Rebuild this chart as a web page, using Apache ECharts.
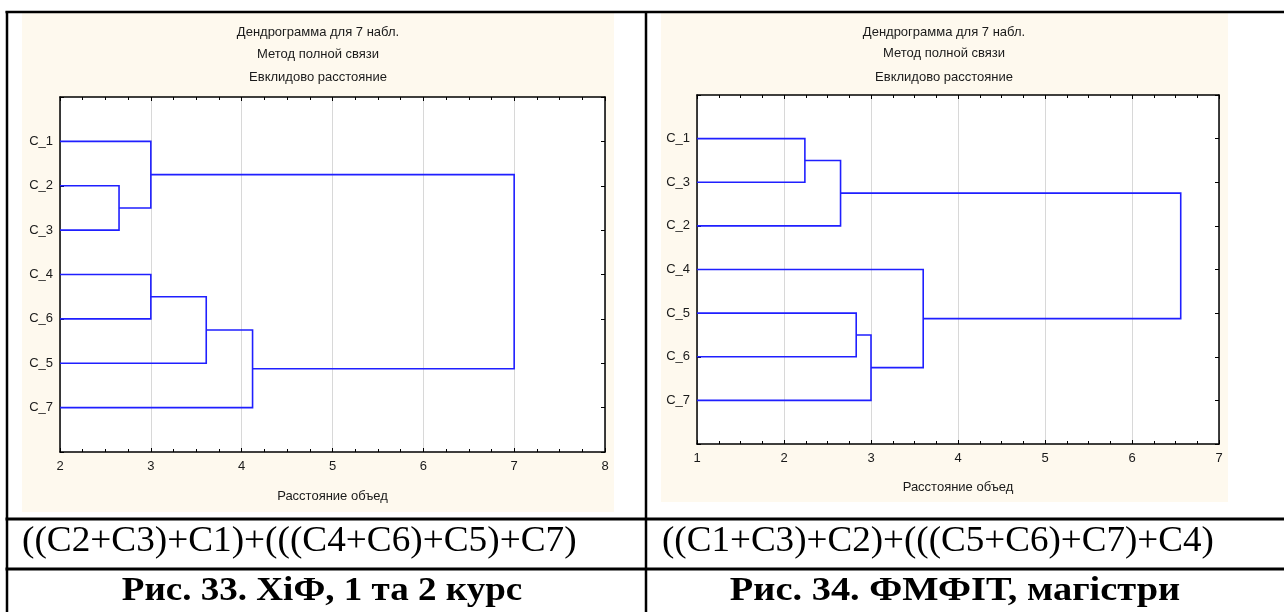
<!DOCTYPE html>
<html><head><meta charset="utf-8">
<script src="https://cdn.jsdelivr.net/npm/echarts@6/dist/echarts.min.js"></script>
<style>html,body{margin:0;padding:0;background:#fff}#c{width:1284px;height:612px}</style>
</head><body><div id="c"></div>
<script>
// ---- data ----
const titleLines = ['Дендрограмма для 7 набл.', 'Метод полной связи', 'Евклидово расстояние'];
const axisName = 'Расстояние объед';

const leftLeaves = ['C_1', 'C_2', 'C_3', 'C_4', 'C_6', 'C_5', 'C_7'];
const leftMergeA = [1, 0, 3, 9, 10, 8];
const leftMergeB = [2, 7, 4, 5, 6, 11];
const leftHeights = [2.65, 3.0, 3.0, 3.61, 4.12, 7.0];
const leftXRange = [2, 8];

const rightLeaves = ['C_1', 'C_3', 'C_2', 'C_4', 'C_5', 'C_6', 'C_7'];
const rightMergeA = [0, 7, 4, 9, 3, 8];
const rightMergeB = [1, 2, 5, 6, 10, 11];
const rightHeights = [2.24, 2.65, 2.83, 3.0, 3.6, 6.56];
const rightXRange = [1, 7];

const leftFormula = '((C2+C3)+C1)+(((C4+C6)+C5)+C7)';
const rightFormula = '((C1+C3)+C2)+(((C5+C6)+C7)+C4)';
const leftCaption = 'Рис. 33. ХіФ, 1 та 2 курс';
const rightCaption = 'Рис. 34. ФМФІТ, магістри';

// ---- helpers ----
function buildLinks(leaves, A, B, H, xmin) {
  const pos = [], hgt = [];
  leaves.forEach((l, i) => { pos.push(i + 1); hgt.push(xmin); });
  const links = [];
  for (let k = 0; k < H.length; k++) {
    const a = A[k], b = B[k], h = H[k];
    links.push({ coords: [[hgt[a], pos[a]], [h, pos[a]], [h, pos[b]], [hgt[b], pos[b]]] });
    pos.push((pos[a] + pos[b]) / 2);
    hgt.push(h);
  }
  return links;
}

const SANS = 'Liberation Sans, Arial, sans-serif';
const SERIF = 'Liberation Serif, Times New Roman, serif';
const TXT = '#1a1a1a';
const FS = 13;

const grids = [
  { left: 60, top: 97, width: 545, height: 355, show: true, backgroundColor: '#fff', borderWidth: 0 },
  { left: 697, top: 95, width: 522, height: 349, show: true, backgroundColor: '#fff', borderWidth: 0 }
];

function xAxes(gi, range, nameGap) {
  const common = {
    gridIndex: gi, type: 'value', min: range[0], max: range[1], interval: 1,
    axisLine: { show: true, onZero: false, lineStyle: { color: '#000', width: 1.5 } },
    axisTick: { show: true, inside: true, length: 4, lineStyle: { color: '#000' } },
    minorTick: { show: true, splitNumber: 4, length: 3, lineStyle: { color: '#000' } }
  };
  return [
    Object.assign({}, common, {
      position: 'bottom',
      axisLabel: { color: TXT, fontSize: FS, fontFamily: SANS, margin: 8 },
      splitLine: { show: true, lineStyle: { color: '#d8d8d8', width: 1 } },
      name: axisName, nameLocation: 'middle', nameGap: nameGap,
      nameTextStyle: { color: TXT, fontSize: FS, fontFamily: SANS }
    }),
    Object.assign({}, common, {
      position: 'top',
      axisLabel: { show: false },
      splitLine: { show: false }
    })
  ];
}
function yAxes(gi, leaves) {
  const common = {
    gridIndex: gi, type: 'value', min: 0, max: leaves.length + 1, interval: 1, inverse: true,
    axisLine: { show: true, onZero: false, lineStyle: { color: '#000', width: 1.5 } },
    axisTick: { show: true, inside: true, length: 4, lineStyle: { color: '#000' } },
    splitLine: { show: false }
  };
  return [
    Object.assign({}, common, {
      position: 'left',
      axisLabel: { color: TXT, fontSize: FS, fontFamily: SANS, margin: 7,
        formatter: v => (v >= 1 && v <= leaves.length) ? leaves[v - 1] : '' }
    }),
    Object.assign({}, common, { position: 'right', axisLabel: { show: false } })
  ];
}

const xs = xAxes(0, leftXRange, 38).concat(xAxes(1, rightXRange, 37));
const ys = yAxes(0, leftLeaves).concat(yAxes(1, rightLeaves));
// xAxis indices: 0 bottom-left,1 top-left,2 bottom-right,3 top-right
const series = [
  { type: 'lines', coordinateSystem: 'cartesian2d', xAxisIndex: 0, yAxisIndex: 0, polyline: true,
    lineStyle: { color: '#1f1fff', width: 1.6, opacity: 1 }, silent: true, z: 5,
    data: buildLinks(leftLeaves, leftMergeA, leftMergeB, leftHeights, leftXRange[0]) },
  { type: 'lines', coordinateSystem: 'cartesian2d', xAxisIndex: 2, yAxisIndex: 2, polyline: true,
    lineStyle: { color: '#1f1fff', width: 1.6, opacity: 1 }, silent: true, z: 5,
    data: buildLinks(rightLeaves, rightMergeA, rightMergeB, rightHeights, rightXRange[0]) }
];

function titleTexts(cx, ysPos) {
  return titleLines.map((t, i) => ({
    type: 'text', x: cx, y: ysPos[i], z: 10,
    style: { text: t, fill: TXT, font: FS + 'px ' + SANS, align: 'center', verticalAlign: 'middle' }
  }));
}

const graphic = [
  { type: 'rect', shape: { x: 22, y: 13, width: 592, height: 499 }, style: { fill: '#fef9ee' }, z: -100 },
  { type: 'rect', shape: { x: 661, y: 13, width: 567, height: 489 }, style: { fill: '#fef9ee' }, z: -100 },
  ...titleTexts(318, [32, 54, 77]),
  ...titleTexts(944, [32, 53, 77]),
  // table lines
  { type: 'line', shape: { x1: 5.5, y1: 12, x2: 1284, y2: 12 }, style: { stroke: '#000', lineWidth: 2.5 }, z: 100 },
  { type: 'line', shape: { x1: 7, y1: 11, x2: 7, y2: 612 }, style: { stroke: '#000', lineWidth: 2.5 }, z: 100 },
  { type: 'line', shape: { x1: 646, y1: 11, x2: 646, y2: 612 }, style: { stroke: '#000', lineWidth: 2.5 }, z: 100 },
  { type: 'line', shape: { x1: 5.5, y1: 519, x2: 1284, y2: 519 }, style: { stroke: '#000', lineWidth: 3 }, z: 100 },
  { type: 'line', shape: { x1: 5.5, y1: 569, x2: 1284, y2: 569 }, style: { stroke: '#000', lineWidth: 3 }, z: 100 },
  // formula row
  { type: 'text', x: 22, y: 542, z: 100, scaleX: 1.035,
    style: { text: leftFormula, fill: '#000', font: '36px ' + SERIF, align: 'left', verticalAlign: 'middle' } },
  { type: 'text', x: 662, y: 542, z: 100, scaleX: 1.03,
    style: { text: rightFormula, fill: '#000', font: '36px ' + SERIF, align: 'left', verticalAlign: 'middle' } },
  // captions
  { type: 'text', x: 322, y: 591, z: 100, scaleX: 1.09,
    style: { text: leftCaption, fill: '#000', font: 'bold 34px ' + SERIF, align: 'center', verticalAlign: 'middle' } },
  { type: 'text', x: 955, y: 591, z: 100, scaleX: 1.13,
    style: { text: rightCaption, fill: '#000', font: 'bold 34px ' + SERIF, align: 'center', verticalAlign: 'middle' } }
];

const chart = echarts.init(document.getElementById('c'), null, { renderer: 'canvas' });
chart.setOption({
  backgroundColor: '#fff',
  animation: false,
  grid: grids,
  xAxis: xs,
  yAxis: ys,
  series: series,
  graphic: graphic
});
</script>
</body></html>
